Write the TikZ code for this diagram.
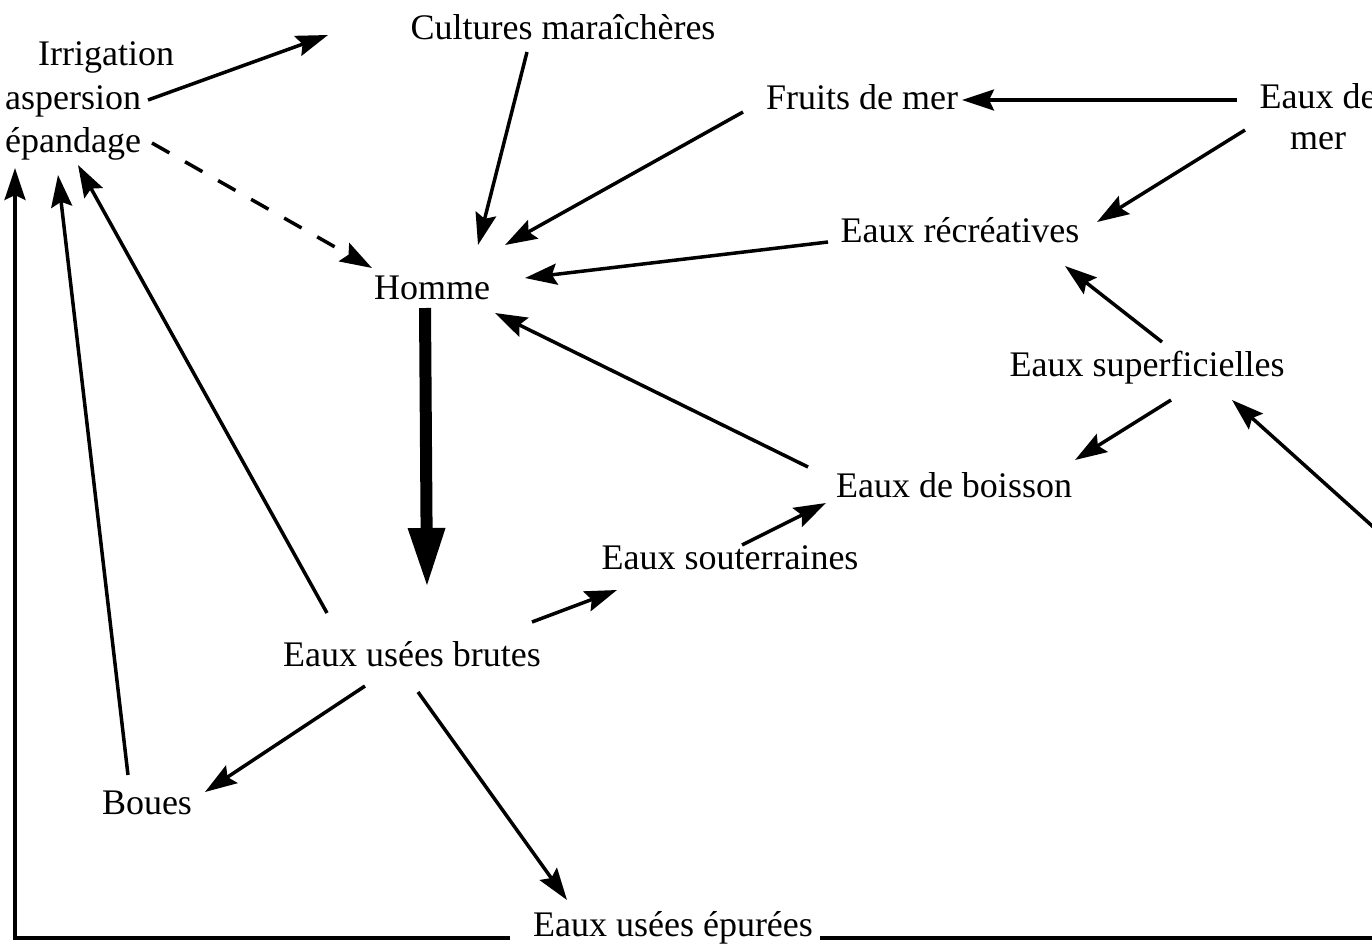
\documentclass[tikz,border=0pt]{standalone}
\usepackage{fontspec}
\setmainfont{Liberation Serif}
\usetikzlibrary{arrows.meta,calc}
\tikzset{
  lbl/.style={inner sep=0pt, font=\fontsize{36}{43.5}\selectfont},
  arr/.style={line width=3.5pt, -{Stealth[length=32pt,width=21pt,inset=5pt]}},
  plain/.style={line width=3.5pt},
  dashedarr/.style={arr, dash pattern=on 20pt off 18pt},
  thickarr/.style={line width=12pt, -{Triangle[length=60pt,width=34pt]}}
}
\begin{document}
\begin{tikzpicture}[x=1pt,y=-1pt]
\useasboundingbox (0,0) rectangle (1372,945);
\fill[white] (0,0) rectangle (1372,945);
\clip (0,0) rectangle (1372,945);

\node[lbl, anchor=west, align=left] (irr) at (5,101) {\hspace*{33pt}Irrigation\\aspersion\\épandage};
\node[lbl] (cult) at (563,27) {Cultures maraîchères};
\node[lbl] (fruits) at (862,97) {Fruits de mer};
\node[lbl, align=center, font=\fontsize{36}{41}\selectfont] (mer) at (1318,117) {Eaux de\\mer};
\node[lbl] (recr) at (960,230) {Eaux récréatives};
\node[lbl] (homme) at (432,288) {Homme};
\node[lbl] (sup) at (1147,368) {Eaux superficielles};
\node[lbl] (boiss) at (954,485) {Eaux de boisson};
\node[lbl] (sout) at (730,558) {Eaux souterraines};
\node[lbl] (ub) at (412,654) {Eaux usées brutes};
\node[lbl] (boues) at (147,803) {Boues};
\node[lbl] (epu) at (673,928) {Eaux usées épurées};

\coordinate (ext) at (1400,551);
\coordinate (extb) at (1400,938);

\draw[arr] ($(irr.west)+(143,-1)$) -- ($(cult)+(-235,8)$);
\draw[dashedarr] ($(irr.west)+(147,42)$) -- ($(homme)+(-60,-20)$);
\draw[arr] ($(cult)+(-36,25)$) -- ($(homme)+(46,-43)$);
\draw[arr] ($(fruits)+(-119,15)$) -- ($(homme)+(73,-43)$);
\draw[arr] ($(mer)+(-81,-17)$) -- ($(fruits)+(100,3)$);
\draw[arr] ($(mer)+(-73,13)$) -- ($(recr)+(137,-8)$);
\draw[arr] ($(recr)+(-132,12)$) -- ($(homme)+(93,-10)$);
\draw[arr] ($(sup)+(15,-26)$) -- ($(recr)+(105,36)$);
\draw[arr] ($(sup)+(24,32)$) -- ($(boiss)+(121,-25)$);
\draw[arr] (ext) -- ($(sup)+(85,32)$);
\draw[arr] ($(boiss)+(-146,-18)$) -- ($(homme)+(63,25)$);
\draw[thickarr] ($(homme)+(-7,20)$) -- ($(ub)+(15,-66)$);
\draw[arr] ($(ub)+(120,-32)$) -- ($(sout)+(-113,32)$);
\draw[arr] ($(sout)+(12,-13)$) -- ($(boiss)+(-128,18)$);
\draw[arr] ($(ub)+(-85,-41)$) -- ($(irr.west)+(73,64)$);
\draw[arr] ($(ub)+(-47,32)$) -- ($(boues)+(58,-11)$);
\draw[arr] ($(ub)+(6,38)$) -- ($(epu)+(-106,-28)$);
\draw[arr] ($(boues)+(-19,-28)$) -- ($(irr.west)+(53,74)$);
\draw[arr] ($(epu)+(-163,10)$) -| ($(irr.west)+(10,67)$);
\draw[plain] ($(epu)+(147,10)$) -- (extb);
\end{tikzpicture}
\end{document}
